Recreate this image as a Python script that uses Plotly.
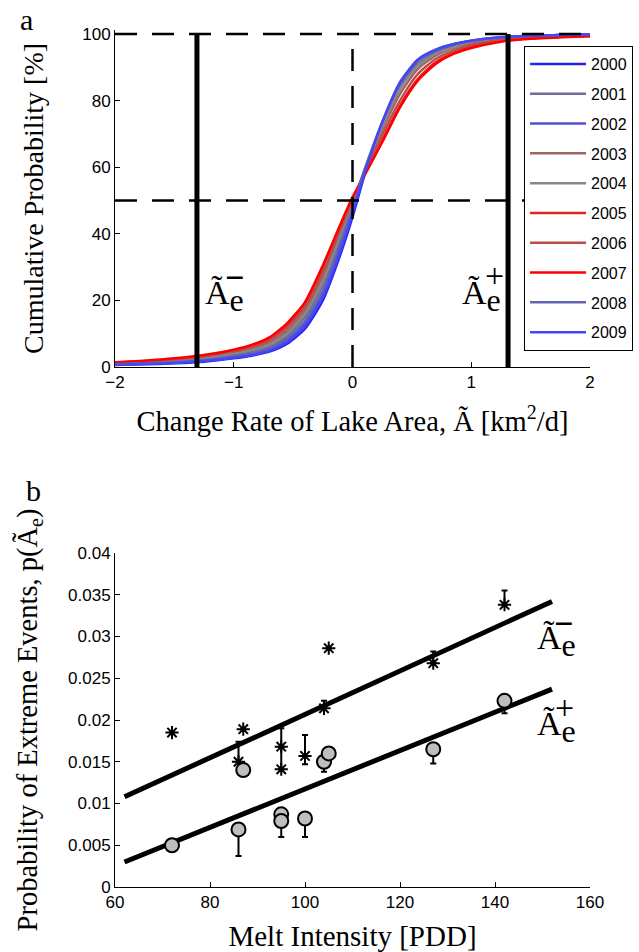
import plotly.graph_objects as go

# ---------------- Panel a data ----------------
years = ["2000", "2001", "2002", "2003", "2004", "2005", "2006", "2007", "2008", "2009"]
year_colors = ["rgb(35,35,250)", "rgb(110,110,150)", "rgb(80,80,205)", "rgb(160,100,100)",
               "rgb(135,135,135)", "rgb(225,35,35)", "rgb(190,75,75)", "rgb(255,0,0)",
               "rgb(100,100,180)", "rgb(70,70,245)"]

x_grid = [-2, -1.75, -1.5, -1.25, -1, -0.85, -0.7, -0.55, -0.4, -0.25, -0.1, 0,
          0.1, 0.25, 0.4, 0.55, 0.7, 0.85, 1, 1.25, 1.5, 1.75, 2]

cdf_2000 = [0.6, 0.8, 1.1, 1.6, 2.6, 3.4, 4.6, 7.0, 11.5, 20.0, 34.0, 45.0, 57.5, 73.0, 85.0, 92.0, 95.0, 96.8, 97.9, 98.9, 99.4, 99.7, 99.9]
cdf_2001 = [0.9, 1.3, 1.7, 2.4, 3.7, 4.7, 6.2, 9.4, 15.0, 24.5, 38.5, 48.5, 59.0, 72.5, 84.0, 91.0, 94.5, 96.5, 97.7, 98.8, 99.3, 99.6, 99.8]
cdf_2002 = [0.8, 1.0, 1.4, 2.0, 3.1, 4.0, 5.3, 8.2, 13.0, 22.0, 36.5, 47.0, 58.5, 73.0, 85.0, 92.0, 95.0, 96.8, 97.9, 98.9, 99.4, 99.7, 99.9]
cdf_2003 = [1.1, 1.5, 2.1, 2.9, 4.3, 5.5, 7.3, 10.8, 17.0, 27.0, 40.5, 49.5, 58.5, 71.0, 82.0, 89.5, 93.5, 95.8, 97.2, 98.5, 99.1, 99.4, 99.6]
cdf_2004 = [1.0, 1.4, 1.9, 2.7, 4.0, 5.0, 6.7, 10.0, 16.0, 25.5, 39.5, 49.0, 59.0, 72.0, 83.5, 90.5, 94.0, 96.0, 97.5, 98.6, 99.2, 99.5, 99.7]
cdf_2005 = [1.3, 1.8, 2.5, 3.4, 5.0, 6.3, 8.5, 12.5, 18.8, 29.5, 42.0, 50.5, 57.5, 68.0, 78.5, 86.5, 91.5, 94.3, 96.2, 97.9, 98.7, 99.1, 99.4]
cdf_2006 = [1.2, 1.7, 2.3, 3.2, 4.7, 6.0, 8.0, 11.8, 18.0, 28.5, 41.5, 50.0, 58.0, 69.5, 80.0, 88.0, 92.5, 95.0, 96.8, 98.2, 98.9, 99.2, 99.5]
cdf_2007 = [1.4, 1.9, 2.6, 3.6, 5.2, 6.6, 8.9, 13.2, 19.5, 30.5, 43.0, 51.0, 57.5, 67.5, 78.0, 86.0, 91.0, 94.0, 95.8, 97.7, 98.6, 99.0, 99.3]
cdf_2008 = [0.8, 1.1, 1.5, 2.1, 3.3, 4.2, 5.6, 8.6, 13.8, 23.0, 37.5, 47.5, 59.0, 73.5, 85.5, 92.3, 95.2, 96.9, 98.0, 99.0, 99.5, 99.7, 99.9]
cdf_2009 = [0.7, 0.9, 1.2, 1.8, 2.8, 3.6, 4.9, 7.5, 12.3, 21.0, 35.0, 46.0, 58.0, 73.5, 85.5, 92.3, 95.3, 97.0, 98.0, 99.0, 99.5, 99.7, 99.9]
cdf_values = [cdf_2000, cdf_2001, cdf_2002, cdf_2003, cdf_2004,
              cdf_2005, cdf_2006, cdf_2007, cdf_2008, cdf_2009]

a_x_ticks = [-2, -1, 0, 1, 2]
a_x_ticktext = ["\u22122", "\u22121", "0", "1", "2"]
a_y_ticks = [0, 20, 40, 60, 80, 100]
ref_levels = [50, 100]          # dashed horizontal reference levels [%]
ref_zero = 0                    # dashed vertical reference
thresholds = [-1.31, 1.31]      # extreme-event thresholds  A_e^-, A_e^+

# ---------------- Panel b data ----------------
star_pdd = [72, 87, 86, 95, 95, 100, 104, 105, 127, 142]
star_p = [0.0185, 0.0189, 0.0150, 0.0168, 0.0141, 0.0157, 0.0214, 0.0286, 0.0268, 0.0338]
star_err_up = [0, 0, 0.0024, 0.0022, 0.0026, 0.0025, 0.0009, 0, 0.0014, 0.0017]
star_err_down = [0, 0, 0, 0, 0, 0.0010, 0, 0, 0, 0]

circ_pdd = [72, 87, 86, 95, 95, 100, 104, 105, 127, 142]
circ_p = [0.0050, 0.0140, 0.0069, 0.0087, 0.0079, 0.0082, 0.0150, 0.0160, 0.0165, 0.0223]
circ_err_up = [0, 0, 0, 0, 0, 0, 0, 0, 0, 0]
circ_err_down = [0, 0, 0.0032, 0, 0.0019, 0.0022, 0.0012, 0, 0.0017, 0.0015]

fit_pdd = [62, 152]
fit_minus = [0.0108, 0.0342]
fit_plus = [0.0030, 0.0237]

b_x_ticks = [60, 80, 100, 120, 140, 160]
b_y_ticks = [0, 0.005, 0.01, 0.015, 0.02, 0.025, 0.03, 0.035, 0.04]
b_y_ticktext = ["0", "0.005", "0.01", "0.015", "0.02", "0.025", "0.03", "0.035", "0.04"]

SERIF = "Liberation Serif"
SANS = "Liberation Sans"

fig = go.Figure()

# CDF curves
for yr, col, vals in zip(years, year_colors, cdf_values):
    fig.add_trace(go.Scatter(x=x_grid, y=vals, mode="lines", name=yr, legendgroup=yr,
                             line=dict(color=col, width=2.5, shape="spline", smoothing=0.6),
                             xaxis="x", yaxis="y", hoverinfo="skip"))

# dashed reference lines
for lev in ref_levels:
    fig.add_trace(go.Scatter(x=[a_x_ticks[0], a_x_ticks[-1]], y=[lev, lev], mode="lines",
                             line=dict(color="black", width=2.5, dash="22px,15px"),
                             showlegend=False, xaxis="x", yaxis="y", hoverinfo="skip"))
fig.add_trace(go.Scatter(x=[ref_zero, ref_zero], y=[a_y_ticks[0], a_y_ticks[-1]], mode="lines",
                         line=dict(color="black", width=2.5, dash="22px,15px"),
                         showlegend=False, xaxis="x", yaxis="y", hoverinfo="skip"))
# threshold lines
for th in thresholds:
    fig.add_trace(go.Scatter(x=[th, th], y=[a_y_ticks[0], a_y_ticks[-1]], mode="lines",
                             line=dict(color="black", width=5),
                             showlegend=False, xaxis="x", yaxis="y", hoverinfo="skip"))

# Panel b: fit lines
fig.add_trace(go.Scatter(x=fit_pdd, y=fit_minus, mode="lines", line=dict(color="black", width=5),
                         showlegend=False, xaxis="x2", yaxis="y2", hoverinfo="skip"))
fig.add_trace(go.Scatter(x=fit_pdd, y=fit_plus, mode="lines", line=dict(color="black", width=5),
                         showlegend=False, xaxis="x2", yaxis="y2", hoverinfo="skip"))
# stars (A_e^-)
fig.add_trace(go.Scatter(x=star_pdd, y=star_p, mode="markers",
                         marker=dict(symbol="asterisk-open", size=11, color="black",
                                     line=dict(color="black", width=2)),
                         error_y=dict(type="data", symmetric=False, array=star_err_up,
                                      arrayminus=star_err_down, color="black", thickness=2, width=3),
                         showlegend=False, xaxis="x2", yaxis="y2"))
# circles (A_e^+)
fig.add_trace(go.Scatter(x=circ_pdd, y=circ_p, mode="markers",
                         marker=dict(symbol="circle", size=14, color="rgb(190,190,190)",
                                     line=dict(color="black", width=2)),
                         error_y=dict(type="data", symmetric=False, array=circ_err_up,
                                      arrayminus=circ_err_down, color="black", thickness=2, width=3),
                         showlegend=False, xaxis="x2", yaxis="y2"))

axis_common = dict(showgrid=False, zeroline=False, showline=True, linecolor="black", linewidth=1,
                   ticks="inside", ticklen=5, tickcolor="black", tickwidth=1,
                   tickfont=dict(family=SANS, size=17, color="black"), automargin=False)

fig.update_layout(
    width=639, height=952, autosize=False,
    margin=dict(l=115, r=49, t=30, b=65, autoexpand=False),
    paper_bgcolor="white", plot_bgcolor="white",
    showlegend=True,
    legend=dict(x=0.8611, y=0.9813, xanchor="left", yanchor="top",
                bgcolor="white", bordercolor="black", borderwidth=1,
                font=dict(family=SANS, size=16, color="black"),
                tracegroupgap=6, itemwidth=56),
    xaxis=dict(domain=[0, 1], range=[-2, 2], tickvals=a_x_ticks, ticktext=a_x_ticktext,
               anchor="y",
               title=dict(text="Change Rate of Lake Area, Ã [km<sup>2</sup>/d]",
                          font=dict(family=SERIF, size=28.5, color="black"), standoff=19),
               **axis_common),
    yaxis=dict(domain=[(887 - 367) / 857, 1], range=[0, 101.2], tickvals=a_y_ticks,
               anchor="x",
               title=dict(text="Cumulative Probability [%]",
                          font=dict(family=SERIF, size=28, color="black"), standoff=30),
               **axis_common),
    xaxis2=dict(domain=[0, 1], range=[60, 160], tickvals=b_x_ticks, anchor="y2",
                title=dict(text="Melt Intensity [PDD]",
                           font=dict(family=SERIF, size=29, color="black"), standoff=14),
                **axis_common),
    yaxis2=dict(domain=[0, (887 - 553) / 857], range=[0, 0.04], tickvals=b_y_ticks,
                ticktext=b_y_ticktext, anchor="x2",
                title=dict(text="Probability of Extreme Events, p(Ã<sub>e</sub>)",
                           font=dict(family=SERIF, size=28.5, color="black"), standoff=22),
                **axis_common),
)

lab_font = dict(family=SERIF, size=34, color="black")
sign_font = dict(family=SERIF, size=34, color="black")
e_sub = "Ã<sub><span style='font-size:32px'>e</span></sub>"
annots = [
    # panel letters
    dict(text="a", xref="paper", yref="paper", x=-0.1853, y=1.0128, xanchor="center",
         yanchor="middle", showarrow=False, font=dict(family=SERIF, size=30, color="black")),
    dict(text="b", xref="paper", yref="paper", x=-0.1726, y=0.4632, xanchor="center",
         yanchor="middle", showarrow=False, font=dict(family=SERIF, size=30, color="black")),
    # panel a labels
    dict(text=e_sub, xref="x", yref="y", x=-1.261, y=21.3, xanchor="left", yanchor="middle",
         showarrow=False, font=lab_font),
    dict(text="<b>\u2212</b>", xref="x", yref="y", x=-0.995, y=27.0, xanchor="center",
         yanchor="middle", showarrow=False, font=sign_font),
    dict(text=e_sub, xref="x", yref="y", x=0.904, y=21.3, xanchor="left", yanchor="middle",
         showarrow=False, font=lab_font),
    dict(text="+", xref="x", yref="y", x=1.198, y=27.5, xanchor="center",
         yanchor="middle", showarrow=False, font=sign_font),
    # panel b labels
    dict(text=e_sub, xref="x2", yref="y2", x=148.4, y=0.02946, xanchor="left", yanchor="middle",
         showarrow=False, font=lab_font),
    dict(text="<b>\u2212</b>", xref="x2", yref="y2", x=154.5, y=0.0316, xanchor="center",
         yanchor="middle", showarrow=False, font=sign_font),
    dict(text=e_sub, xref="x2", yref="y2", x=148.4, y=0.01916, xanchor="left", yanchor="middle",
         showarrow=False, font=lab_font),
    dict(text="+", xref="x2", yref="y2", x=154.7, y=0.0215, xanchor="center",
         yanchor="middle", showarrow=False, font=sign_font),
]
fig.update_layout(annotations=annots)

fig.write_html("out.html", config={"displayModeBar": False, "responsive": False},
               post_script="document.body.style.margin='0px';")
